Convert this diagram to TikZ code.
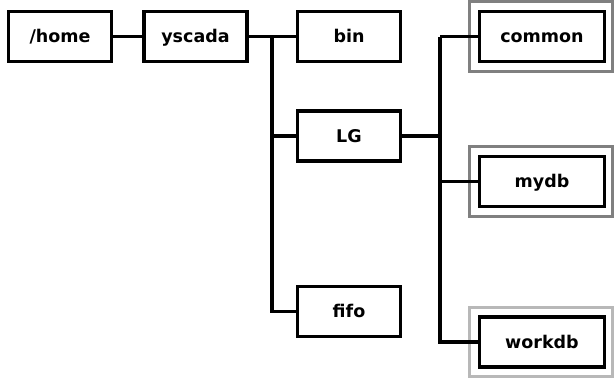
\documentclass[tikz,border=0pt]{standalone}
\usepackage{fontspec}
\setmainfont{DejaVu Sans}
\usetikzlibrary{calc}
\definecolor{frameA}{HTML}{808080}
\definecolor{frameB}{HTML}{B8B8B8}
\begin{document}
\begin{tikzpicture}[x=1pt,y=-1pt,
  dirbox/.style={draw=black,line width=3.3pt,fill=white,minimum height=50pt,
    inner sep=0pt,text height=12.5pt,text depth=0pt,
    font=\fontsize{17.5}{19}\selectfont\bfseries},
  wbox/.style={dirbox,minimum width=103pt},
  widebox/.style={dirbox,minimum width=125pt},
  link/.style={draw=black,line width=3.3pt},
  frameouter/.style={line width=3.2pt}]
\useasboundingbox (0,0) rectangle (614,378);
\node[wbox] (home) at (60,36.5) {/home};
\node[wbox] (yscada) at (195.5,36.5) {yscada};
\node[wbox] (bin) at (349,36.5) {bin};
\node[wbox] (LG) at (349,136) {LG};
\node[wbox] (fifo) at (349,311.5) {fifo};
\node[widebox] (common) at (542,36.5) {common};
\node[widebox] (mydb) at (542,181.5) {mydb};
\node[widebox] (workdb) at (542,342) {workdb};
\draw[frameouter,draw=frameA] ($(common.south west)+(-8,8)$) rectangle ($(common.north east)+(6,-8)$);
\draw[frameouter,draw=frameA] ($(mydb.south west)+(-8,8)$) rectangle ($(mydb.north east)+(6,-8)$);
\draw[frameouter,draw=frameB] ($(workdb.south west)+(-8,8)$) rectangle ($(workdb.north east)+(6,-8)$);
\coordinate (t1) at (272,0);
\coordinate (t2) at (440,0);
\draw[link] (home.east) -- (yscada.west);
\draw[link] (yscada.east) -- (bin.west);
\draw[link,line join=miter] (t1 |- bin.west) |- (fifo.west);
\draw[link] (t1 |- LG.west) -- (LG.west);
\draw[link] (LG.east) -- (t2 |- LG.east);
\draw[link] (t2 |- common.west) -- (common.west);
\draw[link,line join=miter] (t2 |- common.west) |- (workdb.west);
\draw[link] (t2 |- mydb.west) -- (mydb.west);
\end{tikzpicture}
\end{document}
